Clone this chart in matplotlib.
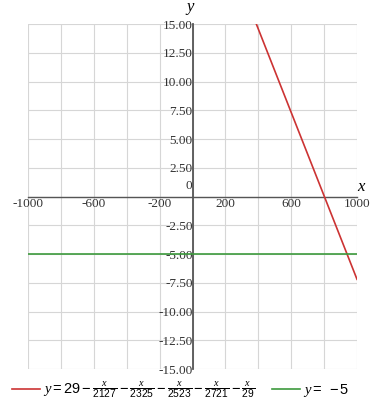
import matplotlib
matplotlib.use("Agg")
import matplotlib.pyplot as plt
import matplotlib.transforms as mtransforms

# Data
red_x = [388, 1000]
red_y = [15.0, -7.2]
green_x = [-1000, 1000]
green_y = [-5.0, -5.0]
red_label = r'$y = 29 - \frac{x}{2127} - \frac{x}{2325} - \frac{x}{2523} - \frac{x}{2721} - \frac{x}{29}$'
green_label = r'$y = \ -5$'
x_grid = list(range(-1000, 1001, 200))
x_tick_labels = ['-1000', '', '-600', '', '-200', '', '200', '', '600', '', '1000']
y_grid = [-15, -12.5, -10, -7.5, -5, -2.5, 0, 2.5, 5, 7.5, 10, 12.5, 15]
y_tick_labels = ['-15.00', '-12.50', '-10.00', '-7.50', '-5.00', '-2.50', '',
                 '2.50', '5.00', '7.50', '10.00', '12.50', '15.00']

plt.rcParams['font.family'] = ['Liberation Serif', 'DejaVu Serif']
plt.rcParams['mathtext.fontset'] = 'custom'
plt.rcParams['mathtext.rm'] = 'Liberation Sans'
plt.rcParams['mathtext.it'] = 'Liberation Serif:italic'

fig = plt.figure(figsize=(3.84, 4.12), dpi=100)
ax = fig.add_axes([28/384, 1-369/412, (357-28)/384, (369-24)/412])

ax.set_xlim(-1000, 1000)
ax.set_ylim(-15, 15)

for s in ['top', 'right']:
    ax.spines[s].set_visible(False)
ax.spines['left'].set_position(('data', 0))
ax.spines['bottom'].set_position(('data', 0))
ax.spines['left'].set_color('#555555')
ax.spines['bottom'].set_color('#555555')
ax.spines['left'].set_linewidth(1.3)
ax.spines['bottom'].set_linewidth(1.0)
ax.spines['left'].set_zorder(3)
ax.spines['bottom'].set_zorder(3)

ax.set_xticks(x_grid)
ax.set_xticklabels(x_tick_labels)
ax.set_yticks(y_grid)
ax.set_yticklabels(y_tick_labels)
ax.tick_params(axis='both', length=0, labelsize=9.5, colors='#333333')
ax.tick_params(axis='x', pad=1)
ax.tick_params(axis='y', pad=0)
ax.grid(True, color='#d6d6d6', linewidth=0.8, zorder=0)
ax.set_axisbelow(True)

ax.plot(red_x, red_y, color='#cc3333', linewidth=1.2, label=red_label, zorder=4)
ax.plot(green_x, green_y, color='#3d9a3d', linewidth=1.2, label=green_label, zorder=4)

ax.text(-5, 0.4, '0', ha='right', va='bottom', fontsize=9.5, color='#333333')
tr = mtransforms.blended_transform_factory(ax.transData, ax.transAxes)
ax.text(-15, 1.025, 'y', transform=tr, ha='center', va='bottom',
        fontsize=12, style='italic')
ax.text(1.0, 0.505, 'x', transform=ax.transAxes, ha='left', va='bottom',
        fontsize=12, style='italic')

fig.legend(loc='center', bbox_to_anchor=(0.47, 1-390/412), ncol=2, frameon=False,
           fontsize=10.5, handlelength=1.9, handletextpad=0.2, columnspacing=1.2,
           borderpad=0)

fig.savefig('out.png', dpi=100)
